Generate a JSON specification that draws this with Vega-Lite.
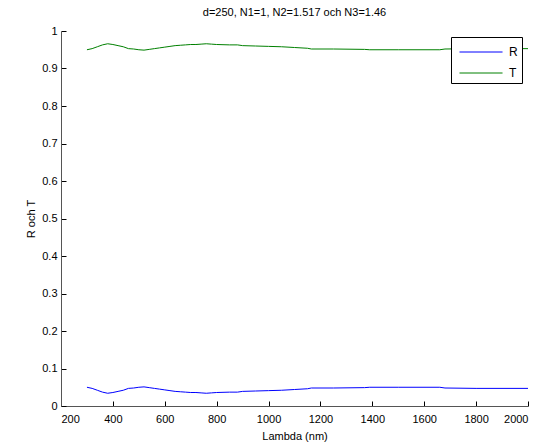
{
  "$schema": "https://vega.github.io/schema/vega-lite/v6.json",
  "width": 467,
  "height": 375,
  "autosize": {"type": "none"},
  "padding": {"left": 61, "top": 31, "right": 21, "bottom": 42},
  "background": "white",
  "title": {"text": "d=250, N1=1, N2=1.517 och N3=1.46", "font": "Liberation Sans", "fontSize": 11, "fontWeight": "normal", "color": "#000", "offset": 7},
  "config": {"view": {"stroke": null}},
  "data": {"values": [
    {"lambda": 300, "R": 0.050}, {"lambda": 320, "R": 0.047}, {"lambda": 340, "R": 0.042},
    {"lambda": 360, "R": 0.037}, {"lambda": 380, "R": 0.034}, {"lambda": 400, "R": 0.036},
    {"lambda": 420, "R": 0.039}, {"lambda": 440, "R": 0.042}, {"lambda": 460, "R": 0.047},
    {"lambda": 480, "R": 0.048}, {"lambda": 500, "R": 0.050}, {"lambda": 520, "R": 0.051},
    {"lambda": 540, "R": 0.049}, {"lambda": 560, "R": 0.047}, {"lambda": 580, "R": 0.045},
    {"lambda": 600, "R": 0.043}, {"lambda": 620, "R": 0.041}, {"lambda": 640, "R": 0.039},
    {"lambda": 660, "R": 0.038}, {"lambda": 680, "R": 0.037}, {"lambda": 700, "R": 0.036},
    {"lambda": 720, "R": 0.036}, {"lambda": 740, "R": 0.035}, {"lambda": 760, "R": 0.034},
    {"lambda": 780, "R": 0.035}, {"lambda": 800, "R": 0.036}, {"lambda": 850, "R": 0.037},
    {"lambda": 880, "R": 0.037}, {"lambda": 900, "R": 0.039}, {"lambda": 950, "R": 0.040},
    {"lambda": 1000, "R": 0.041}, {"lambda": 1050, "R": 0.042}, {"lambda": 1100, "R": 0.044},
    {"lambda": 1150, "R": 0.046}, {"lambda": 1165, "R": 0.048}, {"lambda": 1250, "R": 0.048},
    {"lambda": 1370, "R": 0.049}, {"lambda": 1390, "R": 0.050}, {"lambda": 1500, "R": 0.050},
    {"lambda": 1660, "R": 0.050}, {"lambda": 1680, "R": 0.048}, {"lambda": 1800, "R": 0.047},
    {"lambda": 2000, "R": 0.047}
  ]},
  "transform": [
    {"calculate": "1 - datum.R", "as": "T"},
    {"fold": ["R", "T"], "as": ["series", "value"]}
  ],
  "mark": {"type": "line", "strokeWidth": 1, "interpolate": "linear"},
  "encoding": {
    "x": {"field": "lambda", "type": "quantitative",
      "scale": {"domain": [200, 2000], "nice": false, "zero": false},
      "axis": {"title": "Lambda (nm)", "values": [200,400,600,800,1000,1200,1400,1600,1800,2000], "format": "d",
        "grid": false, "tickSize": -5, "labelPadding": 12, "domainColor": "#555", "tickColor": "#000",
        "labelFont": "Liberation Sans", "labelFontSize": 11, "labelColor": "#000",
        "titleFont": "Liberation Sans", "titleFontSize": 11, "titleFontWeight": "normal", "titleColor": "#000", "titlePadding": 6}},
    "y": {"field": "value", "type": "quantitative",
      "scale": {"domain": [0, 1], "nice": false},
      "axis": {"title": "R och T", "values": [0,0.1,0.2,0.3,0.4,0.5,0.6,0.7,0.8,0.9,1], "format": "~g",
        "grid": false, "tickSize": -5, "labelPadding": 9, "domainColor": "#555", "tickColor": "#000",
        "labelFont": "Liberation Sans", "labelFontSize": 11, "labelColor": "#000",
        "titleFont": "Liberation Sans", "titleFontSize": 11, "titleFontWeight": "normal", "titleColor": "#000", "titlePadding": 5}},
    "color": {"field": "series", "type": "nominal",
      "scale": {"domain": ["R", "T"], "range": ["#0000ff", "#008000"]},
      "legend": {"title": null, "orient": "none", "legendX": 390, "legendY": 6,
        "symbolType": "M-0.62,0H3.48", "symbolSize": 441, "symbolStrokeWidth": 1, "symbolFillColor": "transparent",
        "labelFont": "Liberation Sans", "labelFontSize": 12, "labelColor": "#000", "labelOffset": 32,
        "strokeColor": "#000", "fillColor": "white", "padding": 4, "rowPadding": 4}}
  }
}
